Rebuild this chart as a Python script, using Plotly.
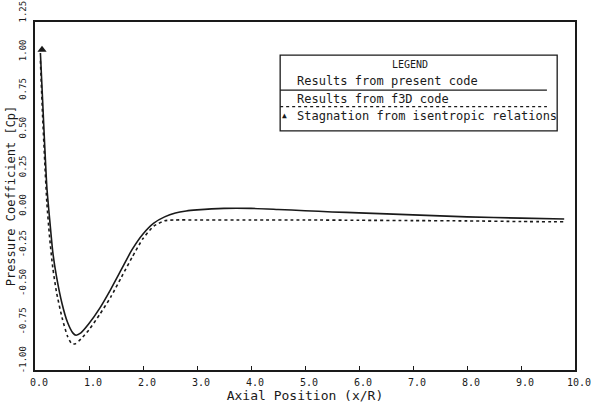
import plotly.graph_objects as go

# ---- data ----
present_x = [0.10, 0.14, 0.18, 0.22, 0.27, 0.33, 0.40, 0.50, 0.60, 0.70, 0.76, 0.85,
             1.00, 1.20, 1.40, 1.60, 1.80, 2.00, 2.20, 2.40, 2.60, 2.80, 3.00, 3.50,
             4.00, 4.50, 5.00, 5.50, 6.00, 7.00, 8.00, 9.00, 9.80]
present_cp = [1.05, 0.75, 0.45, 0.18, -0.02, -0.24, -0.40, -0.57, -0.69, -0.76, -0.775, -0.76,
              -0.70, -0.60, -0.48, -0.35, -0.22, -0.12, -0.05, -0.01, 0.015, 0.028, 0.035, 0.045,
              0.045, 0.038, 0.030, 0.022, 0.016, 0.003, -0.010, -0.018, -0.024]

f3d_x = [0.10, 0.14, 0.18, 0.22, 0.27, 0.33, 0.40, 0.50, 0.60, 0.68, 0.75, 0.85,
         1.00, 1.20, 1.40, 1.60, 1.80, 2.00, 2.20, 2.40, 2.60, 3.00, 4.00, 5.00,
         6.00, 7.00, 8.00, 9.00, 9.80]
f3d_cp = [1.00, 0.65, 0.35, 0.08, -0.14, -0.34, -0.50, -0.66, -0.78, -0.83, -0.83, -0.80,
          -0.74, -0.64, -0.53, -0.40, -0.27, -0.15, -0.07, -0.035, -0.03, -0.03, -0.03, -0.03,
          -0.032, -0.034, -0.036, -0.040, -0.042]

stag_x = [0.13]
stag_cp = [1.07]

x_ticks = [0.0, 1.0, 2.0, 3.0, 4.0, 5.0, 6.0, 7.0, 8.0, 9.0, 10.0]
y_ticks = [-1.00, -0.75, -0.50, -0.25, 0.00, 0.25, 0.50, 0.75, 1.00, 1.25]

legend_title = "LEGEND"
legend_labels = ["Results from present code", "Results from f3D code",
                 "Stagnation from isentropic relations"]

INK = "#1a1a1a"
FONT = "DejaVu Sans Mono"

fig = go.Figure()
fig.add_trace(go.Scatter(x=present_x, y=present_cp, mode="lines",
                         line=dict(color=INK, width=1.6, shape="spline", smoothing=0.6),
                         showlegend=False))
fig.add_trace(go.Scatter(x=f3d_x, y=f3d_cp, mode="lines",
                         line=dict(color=INK, width=1.6, dash="dot", shape="spline", smoothing=0.6),
                         showlegend=False))
fig.add_trace(go.Scatter(x=stag_x, y=stag_cp, mode="markers",
                         marker=dict(symbol="triangle-up", size=8, color=INK),
                         showlegend=False, cliponaxis=False))

# ---- custom legend box (paper coordinates) ----
bx0, bx1, by0, by1 = 0.454, 0.967, 0.687, 0.905
fig.add_shape(type="rect", xref="paper", yref="paper", x0=bx0, x1=bx1, y0=by0, y1=by1,
              line=dict(color=INK, width=1.3))
fig.add_annotation(xref="paper", yref="paper", x=0.694, y=0.879, text=legend_title,
                   showarrow=False, xanchor="center", yanchor="middle",
                   font=dict(family=FONT, size=10, color=INK))
fig.add_annotation(xref="paper", yref="paper", x=0.481, y=0.831, text=legend_labels[0],
                   showarrow=False, xanchor="left", yanchor="middle",
                   font=dict(family=FONT, size=12, color=INK))
fig.add_shape(type="line", xref="paper", yref="paper", x0=bx0, x1=0.948, y0=0.804, y1=0.804,
              line=dict(color=INK, width=1.3))
fig.add_annotation(xref="paper", yref="paper", x=0.481, y=0.780, text=legend_labels[1],
                   showarrow=False, xanchor="left", yanchor="middle",
                   font=dict(family=FONT, size=12, color=INK))
fig.add_shape(type="line", xref="paper", yref="paper", x0=bx0, x1=0.948, y0=0.757, y1=0.757,
              line=dict(color=INK, width=1.3, dash="dot"))
fig.add_annotation(xref="paper", yref="paper", x=0.462, y=0.730, text="\u25B2",
                   showarrow=False, xanchor="center", yanchor="middle",
                   font=dict(family=FONT, size=8, color=INK))
fig.add_annotation(xref="paper", yref="paper", x=0.481, y=0.730, text=legend_labels[2],
                   showarrow=False, xanchor="left", yanchor="middle",
                   font=dict(family=FONT, size=12, color=INK))

fig.update_layout(
    width=593, height=409,
    margin=dict(l=35, r=18, t=22, b=39),
    paper_bgcolor="white", plot_bgcolor="white",
    font=dict(family=FONT, color=INK),
    showlegend=False,
)
fig.update_xaxes(
    range=[0, 10], tickvals=x_ticks, ticktext=[f"{v:.1f}" for v in x_ticks],
    automargin=False,
    ticks="inside", ticklen=4, tickwidth=1.3, tickcolor=INK,
    showline=True, linecolor=INK, linewidth=2, mirror=True,
    showgrid=False, zeroline=False,
    tickfont=dict(family=FONT, size=10, color=INK),
    ticklabelshift=4, ticklabelstandoff=2, ticklabeloverflow="allow",
    title=dict(text="Axial Position (x/R)", font=dict(family=FONT, size=13, color=INK), standoff=2),
)
fig.update_yaxes(
    range=[-1.0, 1.25], tickvals=y_ticks, ticktext=[f"{v:.2f}" for v in y_ticks],
    automargin=False,
    ticks="", tickangle=-90,
    showline=True, linecolor=INK, linewidth=2, mirror=True,
    showgrid=False, zeroline=False,
    tickfont=dict(family=FONT, size=9, color=INK),
    ticklabelshift=-9, ticklabelstandoff=3, ticklabeloverflow="allow",
    title=dict(text="Pressure Coefficient [Cp]", font=dict(family=FONT, size=12, color=INK), standoff=0),
)

fig.write_html("out.html")
